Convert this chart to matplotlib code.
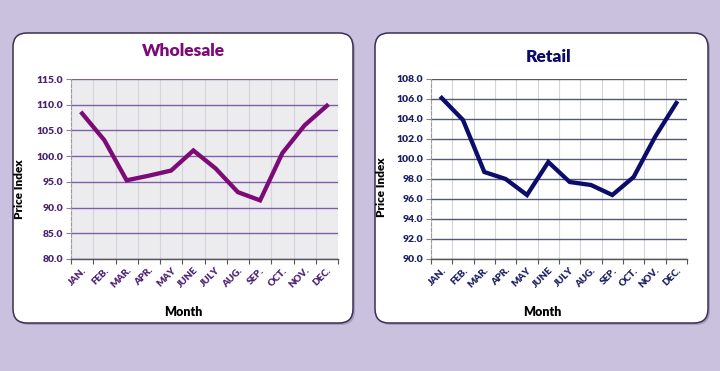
import matplotlib.pyplot as plt
from matplotlib.patches import FancyBboxPatch
from matplotlib.ticker import FixedLocator, FormatStrFormatter
import numpy as np

plt.rcParams['font.family'] = ['Lato', 'DejaVu Sans']

months = ['JAN.', 'FEB.', 'MAR.', 'APR.', 'MAY', 'JUNE', 'JULY', 'AUG.', 'SEP.', 'OCT.', 'NOV.', 'DEC.']
wholesale = [108.3, 103.1, 95.3, 96.2, 97.2, 101.1, 97.6, 93.0, 91.4, 100.6, 106.0, 109.8]
retail = [106.1, 103.9, 98.7, 98.0, 96.4, 99.7, 97.7, 97.4, 96.4, 98.2, 102.2, 105.6]

W, H = 720, 371
fig = plt.figure(figsize=(W / 100, H / 100), dpi=100)
fig.patch.set_facecolor('#C9C1DD')

# фон з панелями (координати в пікселях)
bg = fig.add_axes([0, 0, 1, 1])
bg.set_xlim(0, W)
bg.set_ylim(H, 0)
bg.axis('off')
for x0, x1 in [(13, 353), (375, 708)]:
    y0, y1 = 33, 323
    shadow = FancyBboxPatch((x0 + 2, y0 + 2), x1 - x0, y1 - y0,
                            boxstyle='round,pad=0,rounding_size=14',
                            fc='#8F84A8', ec='none', alpha=0.6)
    bg.add_patch(shadow)
    box = FancyBboxPatch((x0, y0), x1 - x0, y1 - y0,
                         boxstyle='round,pad=0,rounding_size=14',
                         fc='white', ec='#3B3050', lw=1.1)
    bg.add_patch(box)


def px_axes(x0, x1, y0, y1):
    return fig.add_axes([x0 / W, 1 - y1 / H, (x1 - x0) / W, (y1 - y0) / H])


def style(ax, data, color, tick_color, grid_color, face, ymin, ymax, step, title, tx, ty, ylab_xy, xlab_xy):
    n = len(months)
    x = np.arange(n)
    ax.set_facecolor(face)
    ax.plot(x, data, color=color, lw=3.1, solid_joinstyle='miter', zorder=3)
    ax.set_xlim(-0.5, n - 0.5)
    ax.set_ylim(ymin, ymax)

    ax.xaxis.set_major_locator(FixedLocator(np.arange(-0.5, n, 1.0)))
    ax.xaxis.set_minor_locator(FixedLocator(x))
    ax.set_xticklabels([])
    ax.set_xticklabels(months, minor=True, rotation=45, ha='right',
                       rotation_mode='anchor', fontsize=7, fontweight='heavy', color=tick_color)
    ax.tick_params(axis='x', which='major', length=3.5, color='#555555', direction='out')
    ax.tick_params(axis='x', which='minor', length=0, pad=5)

    ax.set_yticks(np.arange(ymin, ymax + step / 2, step))
    ax.yaxis.set_major_formatter(FormatStrFormatter('%.1f'))
    ax.tick_params(axis='y', length=3.5, color='#888888', labelsize=7.5, labelcolor=tick_color, pad=2)
    for lab in ax.get_yticklabels():
        lab.set_fontweight('heavy')

    ax.grid(axis='y', color=grid_color, lw=1.0, zorder=1)
    ax.grid(axis='x', which='major', color='#D3D5DD', lw=0.8, zorder=1)
    ax.set_axisbelow(True)

    for s in ['top', 'right']:
        ax.spines[s].set_visible(False)
    ax.spines['left'].set_linestyle((0, (3, 2)))
    ax.spines['left'].set_color('#9A9A9A')
    ax.spines['left'].set_linewidth(0.8)
    ax.spines['bottom'].set_color('#555555')
    ax.spines['bottom'].set_linewidth(1.0)

    ax.set_ylabel('Price Index', fontsize=8.5, fontweight='heavy', color='black')
    ax.yaxis.set_label_coords(*ylab_xy)
    ax.set_xlabel('Month', fontsize=9, fontweight='heavy', color='black')
    ax.xaxis.set_label_coords(*xlab_xy)

    fig.text(tx / W, 1 - ty / H, title, ha='center', va='center',
             fontsize=12.5, fontweight='heavy', color=color)


ax1 = px_axes(71, 338, 79, 259)
style(ax1, wholesale, '#7D0B77', '#4B2272', '#7F5EA8', '#ECECEE',
      80, 115, 5, 'Wholesale', 183, 51, (-0.172, 0.39), (0.42, -0.26))

ax2 = px_axes(431, 687, 79, 259)
style(ax2, retail, '#0C0C6A', '#1C2060', '#525872', 'white',
      90, 108, 2, 'Retail', 549, 57, (-0.172, 0.40), (0.434, -0.26))

fig.savefig('out.png', dpi=100, facecolor=fig.get_facecolor())
